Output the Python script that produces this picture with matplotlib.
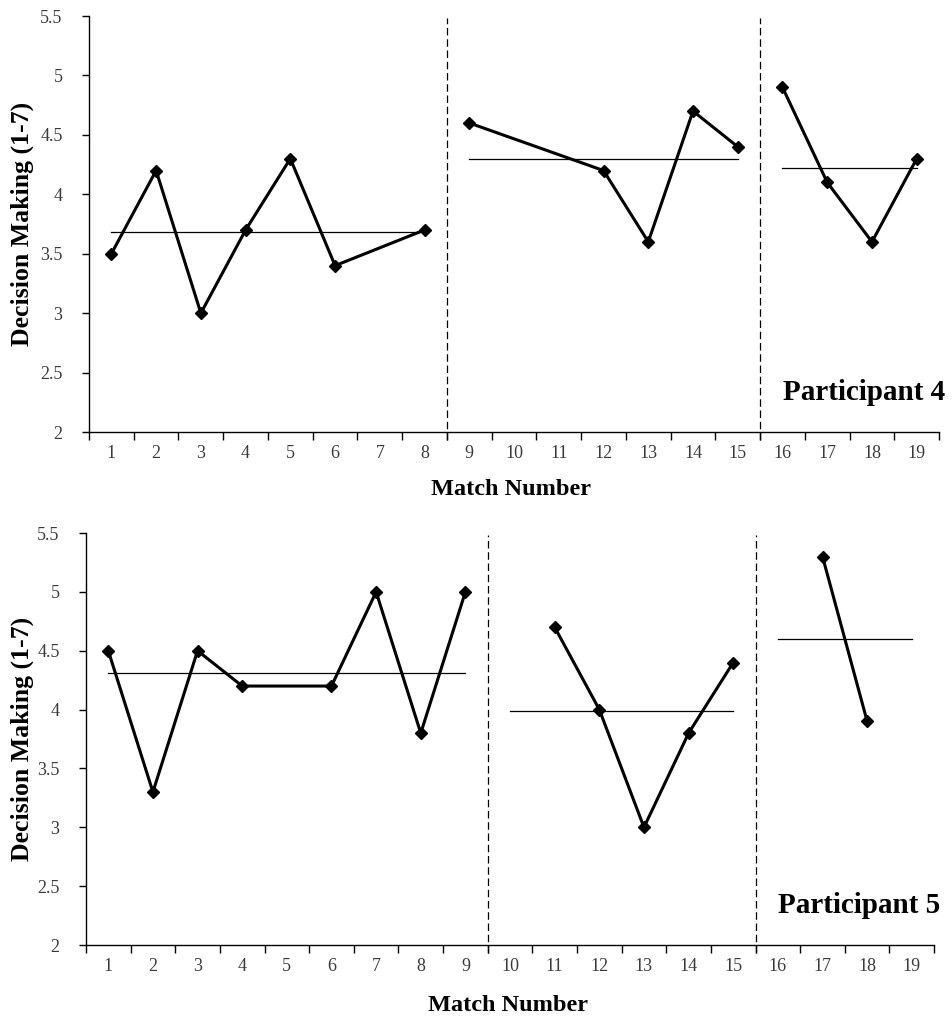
import numpy as np
import matplotlib
matplotlib.use("Agg")
import matplotlib.pyplot as plt

plt.rcParams['font.family'] = ['Liberation Serif', 'DejaVu Serif']

matches = list(range(1, 20))
tick_labels = [str(m) for m in matches]

# Participant 4
p4_values = [3.5, 4.2, 3.0, 3.7, 4.3, 3.4, np.nan, 3.7,
             4.6, np.nan, np.nan, 4.2, 3.6, 4.7, 4.4,
             4.9, 4.1, 3.6, 4.3]
p4_phases = [(1, 8), (9, 15), (16, 19)]
p4_means = [3.68, 4.30, 4.22]
p4_dividers = [8.5, 15.5]

# Participant 5
p5_values = [4.5, 3.3, 4.5, 4.2, np.nan, 4.2, 5.0, 3.8, 5.0,
             np.nan, 4.7, 4.0, 3.0, 3.8, 4.4,
             np.nan, 5.3, 3.9, np.nan]
p5_phases = [(1, 9), (10, 15), (16, 19)]
p5_means = [4.31, 3.99, 4.60]
p5_dividers = [9.5, 15.5]

TICK_COLOR = '#3a3a3a'


def draw(ax, values, phases, means, dividers, label, ylab_x, xlab_y):
    x = np.array(matches, dtype=float)
    v = np.array(values, dtype=float)
    for (a, b), m in zip(phases, means):
        sel = (x >= a) & (x <= b) & ~np.isnan(v)
        ax.plot(x[sel], v[sel], color='black', lw=2.2, marker='D',
                markersize=6.5, zorder=3)
        ax.plot([a, b], [m, m], color='black', lw=0.9, zorder=2)
    for d in dividers:
        ax.plot([d, d], [1.93, 5.48], color='black', lw=0.9,
                dashes=(6, 3), clip_on=False, zorder=1)
    ax.set_xlim(0.5, 19.5)
    ax.set_ylim(2, 5.5)
    ax.set_yticks(np.arange(2, 5.51, 0.5))
    ax.set_yticklabels(['2', '2.5', '3', '3.5', '4', '4.5', '5', '5.5'])
    ax.set_xticks(np.arange(0.5, 19.6, 1.0))
    ax.set_xticklabels([])
    ax.set_xticks(matches, minor=True)
    ax.set_xticklabels(tick_labels, minor=True)
    ax.tick_params(axis='x', which='major', direction='out', length=6,
                   width=1, color='black')
    ax.tick_params(axis='x', which='minor', length=0, pad=9,
                   labelsize=13, labelcolor=TICK_COLOR)
    ax.tick_params(axis='y', direction='out', length=5, width=1,
                   labelsize=13, labelcolor=TICK_COLOR, pad=14)
    for s in ['top', 'right']:
        ax.spines[s].set_visible(False)
    for s in ['left', 'bottom']:
        ax.spines[s].set_linewidth(1.0)
    ax.set_ylabel('Decision Making (1-7)', fontsize=18.5, fontweight='bold')
    ax.yaxis.set_label_coords(ylab_x, 0.5)
    ax.yaxis.label.set_va('center')
    ax.set_xlabel('Match Number', fontsize=17.5, fontweight='bold')
    ax.xaxis.set_label_coords(0.497, xlab_y)
    ax.xaxis.label.set_va('center')
    ax.text(1.007, 0.096, label, transform=ax.transAxes, ha='right',
            va='center', fontsize=21, fontweight='bold')


fig = plt.figure(figsize=(9.53, 10.26), dpi=100)
ax1 = fig.add_axes([0.0934, 0.5789, 0.892, 0.4055])
ax2 = fig.add_axes([0.0902, 0.0789, 0.890, 0.4016])

draw(ax1, p4_values, p4_phases, p4_means, p4_dividers, 'Participant 4',
     -0.079, -0.139)
draw(ax2, p5_values, p5_phases, p5_means, p5_dividers, 'Participant 5',
     -0.0755, -0.146)

fig.savefig('out.png', dpi=100)
